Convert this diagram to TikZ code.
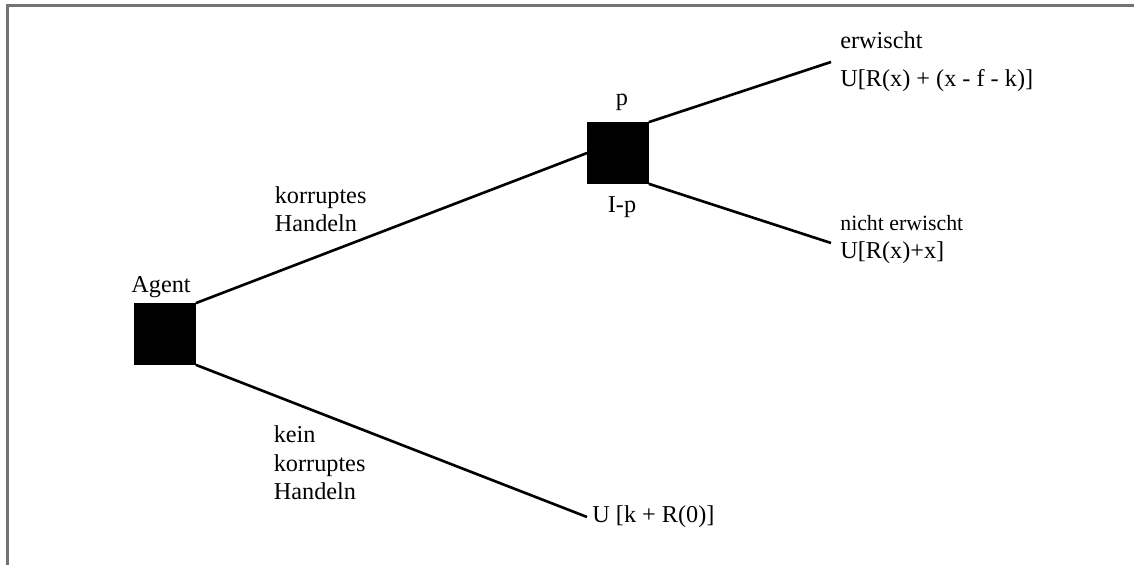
\documentclass[tikz,border=0pt]{standalone}
\usepackage{fontspec}
\setmainfont{Liberation Serif}

\tikzset{
	decision/.style={draw=black, fill=black, minimum size=1.22cm, inner sep=0pt},
	branch/.style={line width=1.5pt},
	lbl/.style={inner sep=0pt, align=left, font=\fontsize{13.8}{16.2}\selectfont},
	smalllbl/.style={inner sep=0pt, align=left, font=\fontsize{12.4}{14.6}\selectfont}
}

\begin{document}
\begin{tikzpicture}

		\useasboundingbox (0,0) rectangle (22.68,11.3);

		% frame
		\draw[line width=1.4pt, color={rgb,255:red,115;green,115;blue,115}] (0.15,0) -- (0.15,11.19) -- (22.68,11.19);

		% decision nodes
		\node[decision] (agent) at (3.3,4.62) {};
		\node[decision] (chance) at (12.36,8.24) {};

		% labels
		\node[lbl, anchor=center] (agentlbl) at (3.22,5.56) {Agent};
		\node[lbl, anchor=center] (plbl) at (12.44,9.25) {p};
		\node[lbl, anchor=center] (notplbl) at (12.44,7.16) {I-p};
		\node[lbl, anchor=west] (corrupt) at (5.49,7.12) {korruptes\\Handeln};
		\node[lbl, anchor=west] (nocorrupt) at (5.47,2.04) {kein\\korruptes\\Handeln};

		% outcomes
		\node[lbl, anchor=west] (caught) at (16.8,10.5) {erwischt};
		\node[lbl, anchor=west] (ucaught) at (16.8,9.68) {U[R(x) + (x - f - k)]};
		\node[smalllbl, anchor=west] (notcaught) at (16.8,6.84) {nicht erwischt};
		\node[lbl, anchor=west] (unotcaught) at (16.8,6.25) {U[R(x)+x]};
		\node[lbl, anchor=west, inner xsep=0.1cm] (uhonest) at (11.74,0.96) {U [k + R(0)]};

		\coordinate (endcaught) at (16.62,10.06);
		\coordinate (endnotcaught) at (16.62,6.44);

		%% Branches %%
		\draw[branch] (agent.north east) -- (chance.west);
		\draw[branch] (agent.south east) -- (uhonest.west);
		\draw[branch] (chance.north east) -- (endcaught);
		\draw[branch] (chance.south east) -- (endnotcaught);

	\end{tikzpicture}
\end{document}
